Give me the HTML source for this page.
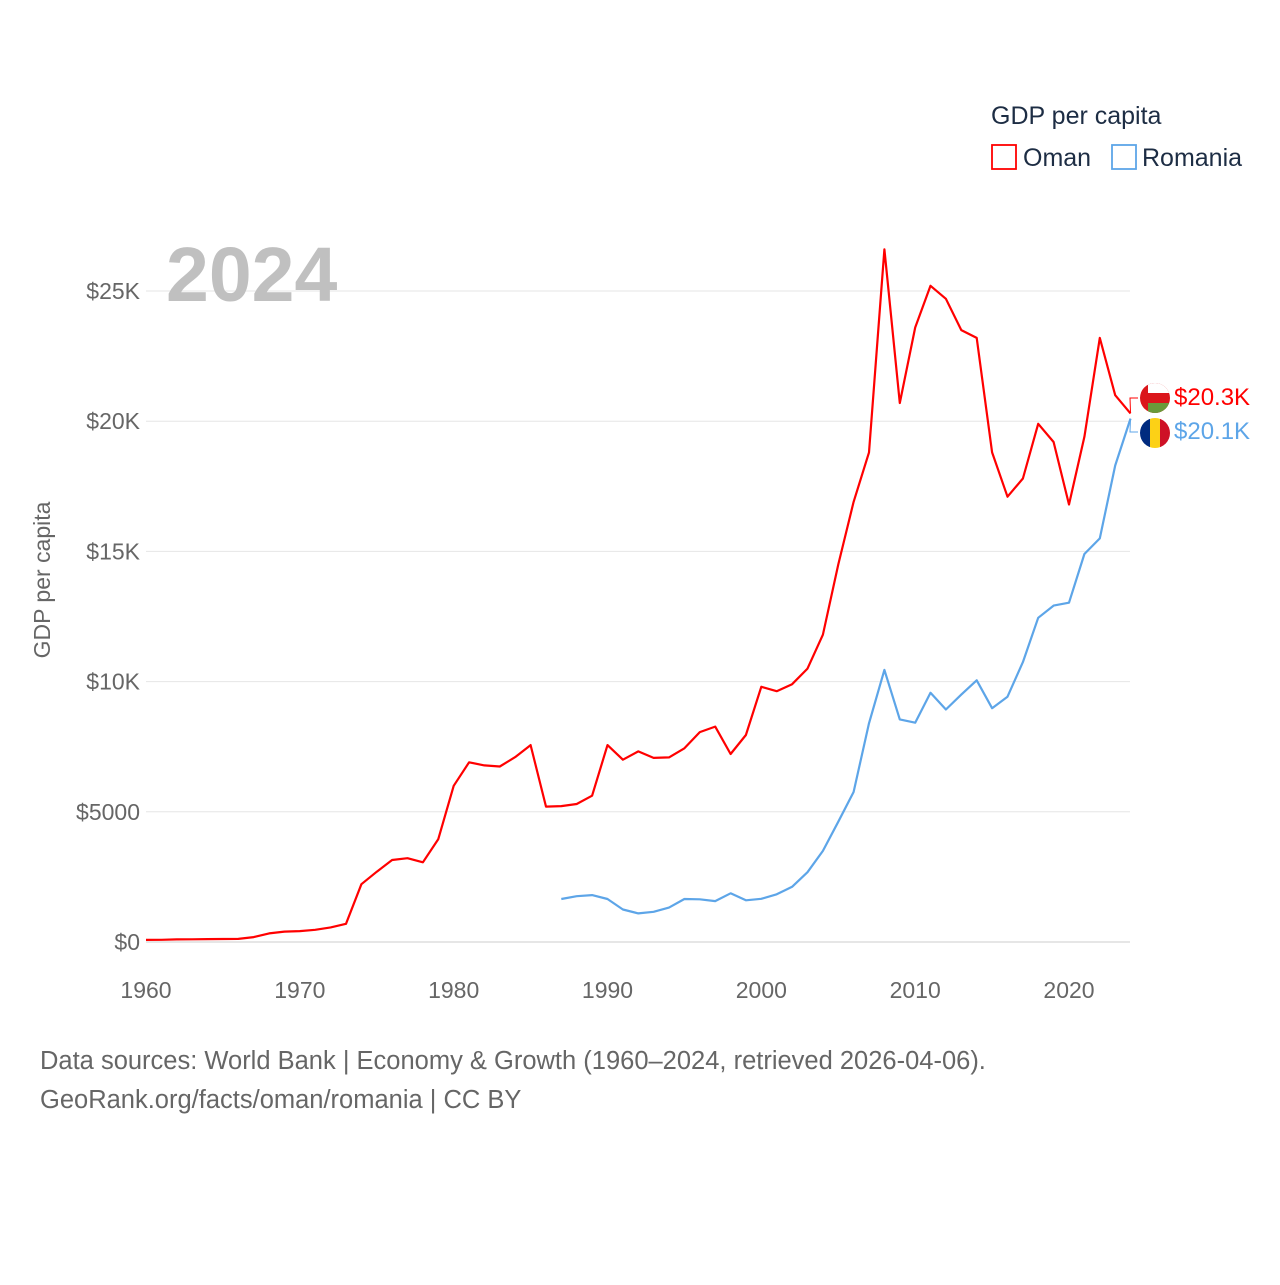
<!DOCTYPE html>
<html><head><meta charset="utf-8">
<style>
html,body{margin:0;padding:0;background:#fff;}
body{width:1280px;height:1280px;overflow:hidden;font-family:"Liberation Sans",sans-serif;}
text{font-family:"Liberation Sans",sans-serif;}
</style></head>
<body>
<svg id="chart" width="1280" height="1280" viewBox="0 0 1280 1280">
  <g id="grid"></g>
  <g id="yticks"></g>
  <g id="xticks"></g>
  <text x="166" y="301" font-size="77" font-weight="bold" fill="#c0c0c0">2024</text>
  <text transform="translate(50,580) rotate(-90)" text-anchor="middle" font-size="23" fill="#666">GDP per capita</text>
  <g id="series"></g>
  <g>
    <text x="991" y="124" font-size="25" fill="#1d2d44">GDP per capita</text>
    <g>
      <rect x="992" y="145" width="24" height="24" fill="none" stroke="#ff0000" stroke-width="1.8"/>
      <text x="1023" y="166" font-size="25" fill="#1d2d44">Oman</text>
    </g>
    <g>
      <rect x="1112" y="145" width="24" height="24" fill="none" stroke="#5da5e8" stroke-width="1.8"/>
      <text x="1142" y="166" font-size="25" fill="#1d2d44">Romania</text>
    </g>
  </g>
  <g>
    <g>
      <clipPath id="c1"><circle cx="1155" cy="398" r="15"/></clipPath>
      <g clip-path="url(#c1)">
        <rect x="1140" y="383" width="30" height="30" fill="#db161b"/>
        <rect x="1148" y="383" width="22" height="10" fill="#fff"/>
        <rect x="1148" y="403" width="22" height="10" fill="#6a9a3a"/>
      </g>
    </g>
    <text x="1174" y="405" font-size="24" fill="#ff0000">$20.3K</text>
    <g>
      <clipPath id="c2"><circle cx="1155" cy="433" r="15"/></clipPath>
      <g clip-path="url(#c2)">
        <rect x="1140" y="418" width="10" height="30" fill="#002b7f"/>
        <rect x="1150" y="418" width="10" height="30" fill="#fcd116"/>
        <rect x="1160" y="418" width="10" height="30" fill="#ce1126"/>
      </g>
    </g>
    <text x="1174" y="439" font-size="24" fill="#5da5e8">$20.1K</text>
  </g>
  <text x="40" y="1069" font-size="25.5" fill="#666">Data sources: World Bank | Economy &amp; Growth (1960–2024, retrieved 2026-04-06).</text>
  <text x="40" y="1108" font-size="25.5" fill="#666">GeoRank.org/facts/oman/romania | CC BY</text>
</svg>
<script>
const yTicks = [0, 5000, 10000, 15000, 20000, 25000];
const yTickLabels = ["$0", "$5000", "$10K", "$15K", "$20K", "$25K"];
const xTicks = [1960, 1970, 1980, 1990, 2000, 2010, 2020];
const omanStart = 1960;
const omanValues = [80,85,100,105,110,115,120,190,330,400,420,470,560,700,2220,2700,3150,3220,3060,3950,6000,6900,6780,6740,7100,7560,5200,5220,5300,5620,7560,7000,7320,7070,7090,7440,8060,8270,7220,7950,9800,9630,9900,10500,11800,14500,16900,18800,26600,20700,23600,25200,24700,23500,23200,18800,17100,17800,19900,19200,16800,19400,23200,21000,20300];
const romaniaStart = 1987;
const romaniaValues = [1650,1760,1800,1650,1250,1100,1160,1320,1650,1640,1570,1870,1600,1660,1830,2120,2680,3500,4620,5760,8400,10450,8550,8420,9570,8930,9500,10050,8980,9420,10750,12450,12920,13030,14900,15500,18300,20100];

const NS = "http://www.w3.org/2000/svg";
const xScale = yr => 146 + (yr - 1960) * (923 / 60);
const yScale = v => 942 - v * (651 / 25000);
function mk(tag, attrs, parent) {
  const e = document.createElementNS(NS, tag);
  for (const k in attrs) e.setAttribute(k, attrs[k]);
  parent.appendChild(e);
  return e;
}
const grid = document.getElementById("grid");
const yt = document.getElementById("yticks");
yTicks.forEach((v, i) => {
  const l = mk("line", {x1: 146, x2: 1130, y1: yScale(v), y2: yScale(v), stroke: v === 0 ? "#ccc" : "#e6e6e6", "stroke-width": 1}, grid);
  
  
  const t = mk("text", {x: 140, y: yScale(v) + 8, "text-anchor": "end", "font-size": 23, fill: "#666"}, yt);
  t.textContent = yTickLabels[i];
  
  
});
const xt = document.getElementById("xticks");
xTicks.forEach(yr => {
  const t = mk("text", {x: xScale(yr), y: 998, "text-anchor": "middle", "font-size": 23, fill: "#666"}, xt);
  t.textContent = yr;
  
  
});
const ser = document.getElementById("series");
function line(vals, start, color, name) {
  const pts = vals.map((v, i) => xScale(start + i).toFixed(1) + "," + yScale(v).toFixed(1)).join(" ");
  const p = mk("polyline", {points: pts, fill: "none", stroke: color, "stroke-width": 2.2, "stroke-linejoin": "round"}, ser);
  
  
  return yScale(vals[vals.length - 1]);
}
const oy = line(omanValues, omanStart, "#ff0000", "oman-line");
const ry = line(romaniaValues, romaniaStart, "#5da5e8", "romania-line");
const c1 = mk("polyline", {points: `${xScale(2024)},${oy} 1130,398 1138,398`, fill: "none", stroke: "#ff0000", "stroke-width": 1}, ser);


const c2 = mk("polyline", {points: `${xScale(2024)},${ry} 1130,432 1138,432`, fill: "none", stroke: "#5da5e8", "stroke-width": 1}, ser);


</script>
</body></html>
